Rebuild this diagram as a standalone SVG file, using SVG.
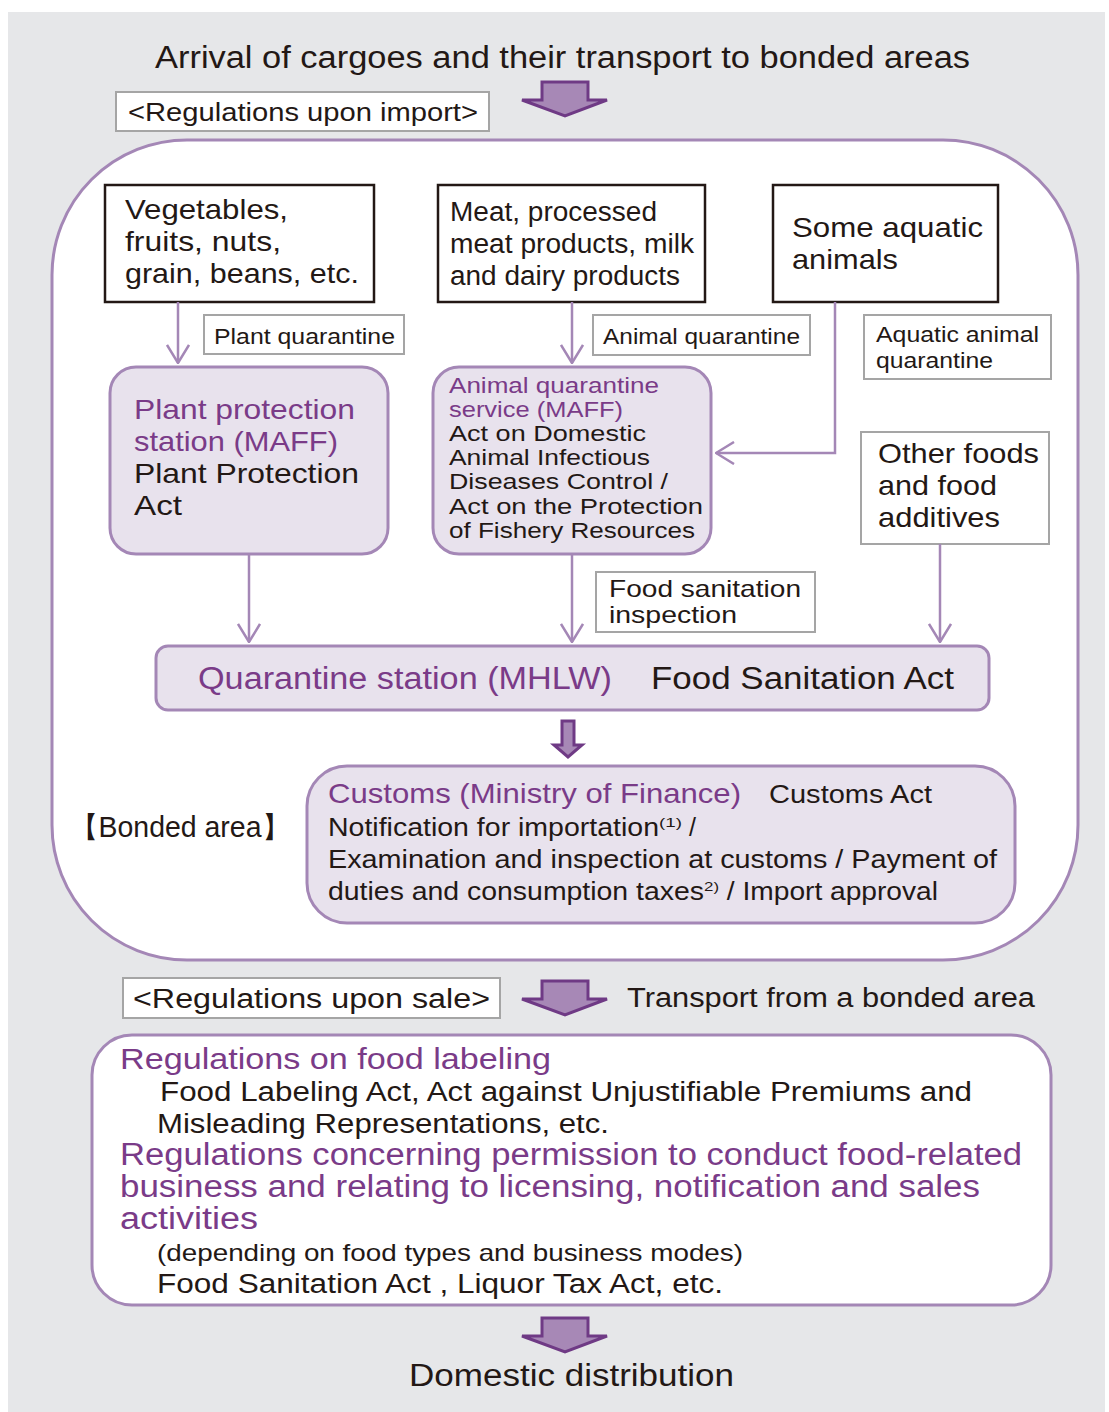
<svg xmlns="http://www.w3.org/2000/svg" width="1109" height="1412" viewBox="0 0 1109 1412">
<defs>
<style>
text{font-family:"Liberation Sans",Arial,sans-serif;fill:#231815}
.p{fill:#7a3b88}
.blk{fill:#fff;stroke:#231815;stroke-width:2.5}
.lbl{fill:#fff;stroke:#a5a5a5;stroke-width:2}
.org{fill:#e8e2ed;stroke:#a487b6;stroke-width:3}
.con{fill:none;stroke:#a487b6;stroke-width:2.5}
.barrow{fill:#a788b6;stroke:#6f3a85;stroke-width:3;stroke-linejoin:miter}
</style>
<marker id="chev" viewBox="0 0 20 24" refX="19" refY="12" markerWidth="20" markerHeight="24" markerUnits="userSpaceOnUse" orient="auto">
<path d="M1,1 L19,12 L1,23" fill="none" stroke="#a487b6" stroke-width="2.5"/>
</marker>
</defs>
<rect x="0" y="0" width="1109" height="1412" fill="#fff"/>
<rect x="8" y="12" width="1097" height="1400" fill="#e6e7e9"/>

<g id="title">
<text x="155" y="68" font-size="31" textLength="815" lengthAdjust="spacingAndGlyphs">Arrival of cargoes and their transport to bonded areas</text>
</g>
<g id="reg-import">
<rect class="lbl" x="116" y="92" width="373" height="39"/>
<text x="128" y="121" font-size="25" textLength="350" lengthAdjust="spacingAndGlyphs">&lt;Regulations upon import&gt;</text>
</g>
<g id="arrow1">
<path class="barrow" d="M542,82 H588 V100 H607 L565,116 L522,100 H542 Z"/>
</g>

<g id="bonded-area">
<rect x="52" y="140" width="1026" height="820" rx="135" ry="135" fill="#fff" stroke="#a487b6" stroke-width="3"/>
<text x="70" y="837" font-size="29" textLength="220" lengthAdjust="spacingAndGlyphs">【Bonded area】</text>
</g>

<g id="veg">
<rect class="blk" x="105" y="185" width="269" height="117"/>
<text x="125" y="219" font-size="28" textLength="163" lengthAdjust="spacingAndGlyphs">Vegetables,</text>
<text x="125" y="251" font-size="28" textLength="156" lengthAdjust="spacingAndGlyphs">fruits, nuts,</text>
<text x="125" y="283" font-size="28" textLength="234" lengthAdjust="spacingAndGlyphs">grain, beans, etc.</text>
</g>
<g id="meat">
<rect class="blk" x="438" y="185" width="267" height="117"/>
<text x="450" y="221" font-size="27" textLength="207" lengthAdjust="spacingAndGlyphs">Meat, processed</text>
<text x="450" y="253" font-size="27" textLength="244" lengthAdjust="spacingAndGlyphs">meat products, milk</text>
<text x="450" y="285" font-size="27" textLength="230" lengthAdjust="spacingAndGlyphs">and dairy products</text>
</g>
<g id="aquatic">
<rect class="blk" x="773" y="185" width="225" height="117"/>
<text x="792" y="237" font-size="28" textLength="191" lengthAdjust="spacingAndGlyphs">Some aquatic</text>
<text x="792" y="269" font-size="28" textLength="106" lengthAdjust="spacingAndGlyphs">animals</text>
</g>
<g id="lbl-plant">
<rect class="lbl" x="204" y="315" width="200" height="39"/>
<text x="214" y="344" font-size="22" textLength="181" lengthAdjust="spacingAndGlyphs">Plant quarantine</text>
</g>
<g id="lbl-animal">
<rect class="lbl" x="593" y="315" width="217" height="40"/>
<text x="603" y="344" font-size="22" textLength="197" lengthAdjust="spacingAndGlyphs">Animal quarantine</text>
</g>
<g id="lbl-aquatic">
<rect class="lbl" x="864" y="315" width="187" height="64"/>
<text x="876" y="342" font-size="22" textLength="163" lengthAdjust="spacingAndGlyphs">Aquatic animal</text>
<text x="876" y="368" font-size="22" textLength="117" lengthAdjust="spacingAndGlyphs">quarantine</text>
</g>

<g id="plant-station">
<rect class="org" x="110" y="367" width="278" height="187" rx="26"/>
<text class="p" x="134" y="419" font-size="28" textLength="221" lengthAdjust="spacingAndGlyphs">Plant protection</text>
<text class="p" x="134" y="451" font-size="28" textLength="204" lengthAdjust="spacingAndGlyphs">station (MAFF)</text>
<text x="134" y="483" font-size="28" textLength="225" lengthAdjust="spacingAndGlyphs">Plant Protection</text>
<text x="134" y="515" font-size="28" textLength="48" lengthAdjust="spacingAndGlyphs">Act</text>
</g>
<g id="animal-service">
<rect class="org" x="433" y="367" width="278" height="187" rx="26"/>
<text class="p" x="449" y="393" font-size="22" textLength="210" lengthAdjust="spacingAndGlyphs">Animal quarantine</text>
<text class="p" x="449" y="417" font-size="22" textLength="174" lengthAdjust="spacingAndGlyphs">service (MAFF)</text>
<text x="449" y="441" font-size="22" textLength="197" lengthAdjust="spacingAndGlyphs">Act on Domestic</text>
<text x="449" y="465" font-size="22" textLength="201" lengthAdjust="spacingAndGlyphs">Animal Infectious</text>
<text x="449" y="489" font-size="22" textLength="219" lengthAdjust="spacingAndGlyphs">Diseases Control /</text>
<text x="449" y="514" font-size="22" textLength="254" lengthAdjust="spacingAndGlyphs">Act on the Protection</text>
<text x="449" y="538" font-size="22" textLength="246" lengthAdjust="spacingAndGlyphs">of Fishery Resources</text>
</g>
<g id="other-foods">
<rect class="lbl" x="861" y="432" width="188" height="112"/>
<text x="878" y="463" font-size="28" textLength="161" lengthAdjust="spacingAndGlyphs">Other foods</text>
<text x="878" y="495" font-size="28" textLength="119" lengthAdjust="spacingAndGlyphs">and food</text>
<text x="878" y="527" font-size="28" textLength="122" lengthAdjust="spacingAndGlyphs">additives</text>
</g>
<g id="lbl-food-sanitation">
<rect class="lbl" x="596" y="572" width="219" height="60"/>
<text x="609" y="597" font-size="24" textLength="192" lengthAdjust="spacingAndGlyphs">Food sanitation</text>
<text x="609" y="623" font-size="24" textLength="128" lengthAdjust="spacingAndGlyphs">inspection</text>
</g>

<g id="quarantine-station">
<rect class="org" x="156" y="646" width="833" height="64" rx="12"/>
<text class="p" x="198" y="689" font-size="31" textLength="414" lengthAdjust="spacingAndGlyphs">Quarantine station (MHLW)</text>
<text x="651" y="689" font-size="31" textLength="303" lengthAdjust="spacingAndGlyphs">Food Sanitation Act</text>
</g>
<g id="arrow-small">
<path class="barrow" d="M562,721 H574 V745 H582 L568,757 L554,745 H562 Z" stroke-width="2.5"/>
</g>

<g id="customs">
<rect class="org" x="307" y="766" width="708" height="157" rx="40"/>
<text class="p" x="328" y="803" font-size="28" textLength="413" lengthAdjust="spacingAndGlyphs">Customs (Ministry of Finance)</text>
<text x="769" y="803" font-size="25" textLength="163" lengthAdjust="spacingAndGlyphs">Customs Act</text>
<text x="328" y="836" font-size="25"><tspan textLength="331" lengthAdjust="spacingAndGlyphs">Notification for importation</tspan><tspan font-size="13" dy="-9" textLength="23" lengthAdjust="spacingAndGlyphs">(1)</tspan><tspan dy="9"> /</tspan></text>
<text x="328" y="868" font-size="25" textLength="669" lengthAdjust="spacingAndGlyphs">Examination and inspection  at customs / Payment of</text>
<text x="328" y="900" font-size="25"><tspan textLength="376" lengthAdjust="spacingAndGlyphs">duties and consumption taxes</tspan><tspan font-size="13" dy="-9" textLength="15" lengthAdjust="spacingAndGlyphs">2)</tspan><tspan dy="9" textLength="219" lengthAdjust="spacingAndGlyphs"> / Import approval</tspan></text>
</g>

<g id="reg-sale">
<rect class="lbl" x="123" y="978" width="377" height="40"/>
<text x="133" y="1008" font-size="27" textLength="357" lengthAdjust="spacingAndGlyphs">&lt;Regulations upon sale&gt;</text>
</g>
<g id="arrow2">
<path class="barrow" d="M542,981 H588 V999 H607 L565,1015 L522,999 H542 Z"/>
<text x="627" y="1007" font-size="27" textLength="408" lengthAdjust="spacingAndGlyphs">Transport from a bonded area</text>
</g>

<g id="sale-regs">
<rect x="92" y="1035" width="959" height="270" rx="40" fill="#fff" stroke="#a487b6" stroke-width="3"/>
<text class="p" x="120" y="1069" font-size="30" textLength="431" lengthAdjust="spacingAndGlyphs">Regulations on food labeling</text>
<text x="160" y="1101" font-size="27" textLength="812" lengthAdjust="spacingAndGlyphs">Food Labeling Act, Act against Unjustifiable Premiums and</text>
<text x="157" y="1133" font-size="27" textLength="452" lengthAdjust="spacingAndGlyphs">Misleading Representations, etc.</text>
<text class="p" x="120" y="1165" font-size="31" textLength="902" lengthAdjust="spacingAndGlyphs">Regulations concerning permission to conduct food-related</text>
<text class="p" x="120" y="1197" font-size="31" textLength="860" lengthAdjust="spacingAndGlyphs">business and relating to licensing, notification and sales</text>
<text class="p" x="120" y="1229" font-size="31" textLength="138" lengthAdjust="spacingAndGlyphs">activities</text>
<text x="157" y="1261" font-size="24" textLength="586" lengthAdjust="spacingAndGlyphs">(depending on food types and business modes)</text>
<text x="157" y="1293" font-size="27" textLength="566" lengthAdjust="spacingAndGlyphs">Food Sanitation Act , Liquor Tax Act, etc.</text>
</g>
<g id="arrow3">
<path class="barrow" d="M542,1318 H588 V1336 H607 L565,1352 L522,1336 H542 Z"/>
</g>
<g id="domestic">
<text x="409" y="1386" font-size="31" textLength="325" lengthAdjust="spacingAndGlyphs">Domestic distribution</text>
</g>

<g id="connectors">
<path class="con" d="M178,302 V363" marker-end="url(#chev)"/>
<path class="con" d="M572,302 V363" marker-end="url(#chev)"/>
<path class="con" d="M835,302 V453 H716" marker-end="url(#chev)"/>
<path class="con" d="M249,554 V642" marker-end="url(#chev)"/>
<path class="con" d="M572,554 V642" marker-end="url(#chev)"/>
<path class="con" d="M940,544 V642" marker-end="url(#chev)"/>
</g>
</svg>
